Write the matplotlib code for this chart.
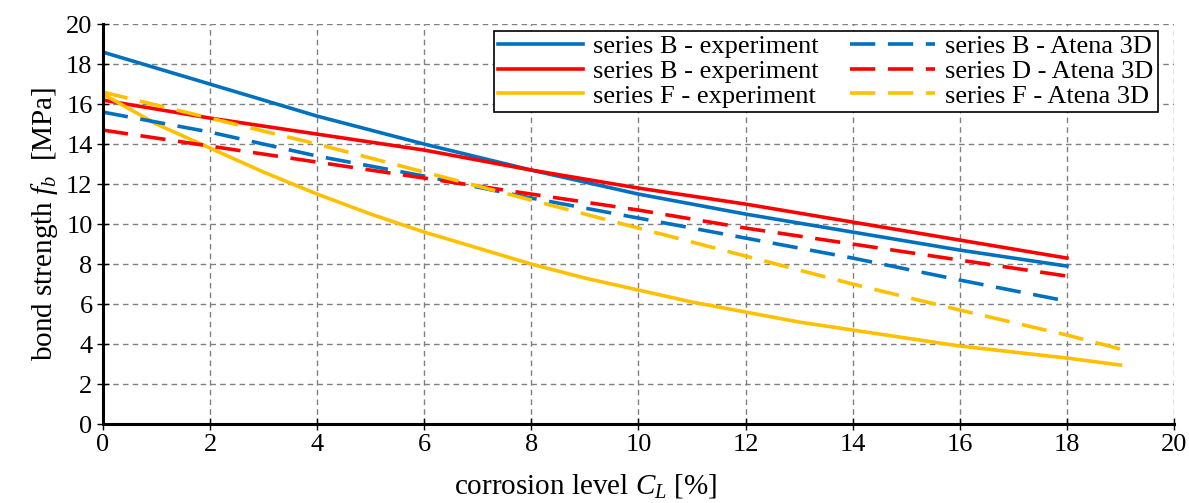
import numpy as np
import matplotlib
matplotlib.use("Agg")
import matplotlib.pyplot as plt

plt.rcParams["font.family"] = "Liberation Serif"
plt.rcParams["mathtext.fontset"] = "custom"
plt.rcParams["mathtext.rm"] = "Liberation Serif"
plt.rcParams["mathtext.it"] = "Liberation Serif:italic"

# corrosion level [%] and bond strength [MPa]
x_18 = [0, 2, 4, 6, 8, 10, 12, 14, 16, 18]
b_exp = [18.6, 17.0, 15.4, 14.0, 12.7, 11.5, 10.5, 9.6, 8.7, 7.9]
b2_exp = [16.2, 15.3, 14.5, 13.7, 12.7, 11.8, 11.0, 10.1, 9.2, 8.3]
x_f = [0, 1, 2, 3, 4, 5, 6, 7, 8, 9, 10, 11, 12, 13, 14, 15, 16, 17, 18, 19]
f_exp = [16.5, 15.0, 13.8, 12.6, 11.5, 10.5, 9.6, 8.8, 8.0, 7.3, 6.7, 6.1, 5.6,
         5.1, 4.7, 4.3, 3.9, 3.6, 3.3, 2.95]
x_b_atena = [0, 2, 4, 6, 8, 10, 12, 14, 16, 17.9]
b_atena = [15.6, 14.6, 13.4, 12.4, 11.3, 10.3, 9.3, 8.3, 7.2, 6.2]
d_atena = [14.7, 13.9, 13.1, 12.3, 11.5, 10.7, 9.8, 9.0, 8.2, 7.4]
x_f_atena = [0, 2, 4, 6, 8, 10, 12, 14, 16, 18, 19]
f_atena = [16.6, 15.3, 14.0, 12.6, 11.2, 9.8, 8.4, 7.0, 5.7, 4.45, 3.75]

blue = "#0070C0"
red = "#FF0000"
yellow = "#FFC000"
lw = 2.6
dash = (7, 3.5)

fig = plt.figure(figsize=(11.89, 5.03), dpi=100)
ax = fig.add_axes([0.0866, 0.157, 0.9008, 0.795])

ax.plot(x_18, b_exp, color=blue, lw=lw, label="series B - experiment")
ax.plot(x_18, b2_exp, color=red, lw=lw, label="series B - experiment")
ax.plot(x_f, f_exp, color=yellow, lw=lw, label="series F - experiment")
ax.plot(x_b_atena, b_atena, color=blue, lw=lw, dashes=dash, label="series B - Atena 3D")
ax.plot(x_18, d_atena, color=red, lw=lw, dashes=dash, label="series D - Atena 3D")
ax.plot(x_f_atena, f_atena, color=yellow, lw=lw, dashes=dash, label="series F - Atena 3D")

ax.set_xlim(0, 20)
ax.set_ylim(0, 20)
ax.set_xticks(np.arange(0, 21, 2))
ax.set_yticks(np.arange(0, 21, 2))
ax.grid(True, color="#808080", linestyle=(0, (4, 3)), lw=1)
ax.set_axisbelow(True)

for s in ["top", "right"]:
    ax.spines[s].set_visible(False)
for s in ["left", "bottom"]:
    ax.spines[s].set_linewidth(2.2)
ax.tick_params(direction="inout", length=9, width=1, labelsize=19, pad=3)

ax.set_xlabel("corrosion level $C_L$ [%]", fontsize=21)
ax.xaxis.set_label_coords(0.451, -0.12)
ax.set_ylabel("bond strength $f_b$  [MPa]", fontsize=21, labelpad=4)

leg = ax.legend(ncol=2, loc="upper right", bbox_to_anchor=(0.997, 1.017),
                fontsize=19, frameon=True, fancybox=False, framealpha=1,
                edgecolor="black", handlelength=3.2, columnspacing=1.2,
                labelspacing=0.05, borderpad=0.15, handletextpad=0.4)
leg.get_frame().set_linewidth(1.2)

fig.savefig("out.png", dpi=100)
